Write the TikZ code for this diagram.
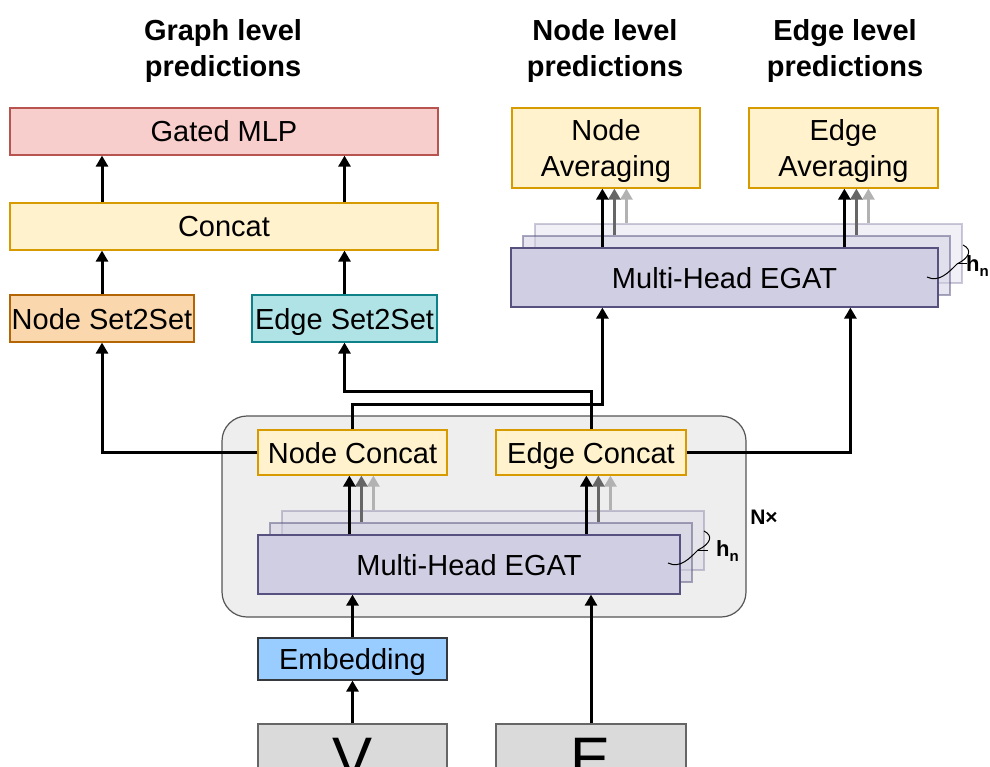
\documentclass[tikz,border=0pt]{standalone}
\usepackage{fontspec}
\setmainfont{Liberation Sans}
\usetikzlibrary{arrows.meta}

\definecolor{mlpfill}{HTML}{F8CECC}\definecolor{mlpdraw}{HTML}{B85450}
\definecolor{catfill}{HTML}{FFF2CC}\definecolor{catdraw}{HTML}{D79B00}
\definecolor{nsfill}{HTML}{FAD7AC}\definecolor{nsdraw}{HTML}{B46504}
\definecolor{esfill}{HTML}{B0E3E6}\definecolor{esdraw}{HTML}{0E8088}
\definecolor{egfill}{HTML}{D0CEE2}\definecolor{egdraw}{HTML}{56517E}
\definecolor{embfill}{HTML}{99CCFF}\definecolor{embdraw}{HTML}{36393D}
\definecolor{infill}{HTML}{DADADA}\definecolor{indraw}{HTML}{666666}
\definecolor{blkfill}{HTML}{EEEEEE}\definecolor{blkdraw}{HTML}{555555}

\newcommand\boxfont{\fontsize{29}{36}\selectfont}

\begin{document}
\begin{tikzpicture}[x=1pt,y=-1pt,
  box/.style={draw, line width=1.2pt, inner sep=0pt, align=center, font=\boxfont},
  one/.style={text height=21pt, text depth=0pt},
  mlp/.style={box, one, fill=mlpfill, draw=mlpdraw, minimum width=428pt, minimum height=47pt},
  cat/.style={box, fill=catfill, draw=catdraw},
  egat/.style={box, one, fill=egfill, draw=egdraw, minimum height=59pt},
  layer/.style={egat, fill opacity=#1, draw opacity=#1},
  title/.style={align=center, font=\bfseries\boxfont},
  conn/.style={line width=3pt, -{Triangle[length=11pt,width=12pt]}},
  brc/.style={line width=1pt},
  hlab/.style={anchor=west, inner sep=0pt, font=\bfseries\fontsize{22}{22}\selectfont},
]
\useasboundingbox (0,0) rectangle (990,767);

% titles
\node[title] (tgraph) at (223,51) {Graph level\\predictions};
\node[title] (tnode) at (605,51) {Node level\\predictions};
\node[title] (tedge) at (845,51) {Edge level\\predictions};

% graph level
\node[mlp] (gmlp) at (224,131.5) {Gated MLP};
\node[cat, one, minimum width=428pt, minimum height=47pt] (concat) at (224,226.5) {Concat};
\node[box, one, fill=nsfill, draw=nsdraw, minimum width=184pt, minimum height=47pt] (nset) at (102,318.5) {Node Set2Set};
\node[box, one, fill=esfill, draw=esdraw, minimum width=185pt, minimum height=47pt] (eset) at (344.5,318.5) {Edge Set2Set};

% node / edge level
\node[cat, text depth=0pt, minimum width=188pt, minimum height=80pt] (navg) at (606,148) {Node\\Averaging};
\node[cat, text depth=0pt, minimum width=189pt, minimum height=80pt] (eavg) at (843.5,148) {Edge\\Averaging};
\node[layer=0.3, minimum width=427pt] (egatT3) at (748.5,253.5) {};
\node[layer=0.5, minimum width=427pt] (egatT2) at (736.5,265.5) {};
\node[egat, minimum width=427pt] (egatT) at (724.5,277.5) {Multi-Head EGAT};

% repeated block
\node[draw=blkdraw, fill=blkfill, line width=1.2pt, rounded corners=25pt,
  minimum width=524pt, minimum height=201pt] (blk) at (484,516.5) {};
\node[font=\bfseries\fontsize{21}{21}\selectfont] (nx) at (764,517) {N×};
\node[cat, one, minimum width=189pt, minimum height=45pt] (nconcat) at (352.5,452.5) {Node Concat};
\node[cat, one, minimum width=190pt, minimum height=45pt] (econcat) at (591,452.5) {Edge Concat};
\node[layer=0.3, minimum width=422pt] (egatB3) at (493,540.5) {};
\node[layer=0.5, minimum width=422pt] (egatB2) at (481,552.5) {};
\node[egat, minimum width=422pt] (egatB) at (469,564.5) {Multi-Head EGAT};

% inputs
\node[box, one, fill=embfill, draw=embdraw, minimum width=189pt, minimum height=42pt] (emb) at (352.5,659) {Embedding};
\node[box, fill=infill, draw=indraw, minimum width=189pt, minimum height=70pt,
  font=\fontsize{60}{60}\selectfont] (vin) at (352.5,759) {V};
\node[box, fill=infill, draw=indraw, minimum width=190pt, minimum height=70pt,
  font=\fontsize{60}{60}\selectfont] (ein) at (591,759) {E};

% heads
\foreach \l/\c in {egatT3/black!30, egatT2/black!60, egatT/black}{
  \draw[conn, \c] ([xshift=92pt]\l.north west) coordinate (s) -- (s |- navg.south);
  \draw[conn, \c] ([xshift=334pt]\l.north west) coordinate (s) -- (s |- eavg.south);
}
\foreach \l/\c in {egatB3/black!30, egatB2/black!60, egatB/black}{
  \draw[conn, \c] ([xshift=92pt]\l.north west) coordinate (s) -- (s |- nconcat.south);
  \draw[conn, \c] ([xshift=329pt]\l.north west) coordinate (s) -- (s |- econcat.south);
}

% braces
\begin{scope}[shift={(963,245)}]
\draw[brc] (0,0) .. controls (10,5) and (6,13) .. (-6,19) .. controls (-14,27) and (-24,38) .. (-36,32);
\draw[brc] (-6,19) -- (4,19);
\end{scope}
\node[hlab] (hnT) at (966,266) {h\raisebox{-0.25em}{\fontsize{15}{15}\selectfont n}};
\begin{scope}[shift={(704,531)}]
\draw[brc] (0,0) .. controls (10,5) and (6,13) .. (-6,19) .. controls (-14,27) and (-24,38) .. (-36,32);
\draw[brc] (-6,19) -- (4,19);
\end{scope}
\node[hlab] (hnB) at (716,551) {h\raisebox{-0.25em}{\fontsize{15}{15}\selectfont n}};

% connectors
\draw[conn] (vin.north) -- (emb.south);
\draw[conn] (emb.north) -- (emb.north |- egatB.south);
\draw[conn] (ein.north) -- (ein.north |- egatB.south);
\draw[conn] (nconcat.west) -| (nset.south);
\draw[conn] (econcat.north) -- ++(0,-38) -| (eset.south);
\draw[conn] (nconcat.north) -- ++(0,-25) -| ([xshift=92pt]egatT.south west);
\draw[conn] (econcat.east) -| ([xshift=340pt]egatT.south west);
\draw[conn] (nset.north) -- (concat.south -| nset.north);
\draw[conn] (eset.north) -- (concat.south -| eset.north);
\draw[conn] (concat.north -| nset.north) -- (gmlp.south -| nset.north);
\draw[conn] (concat.north -| eset.north) -- (gmlp.south -| eset.north);

\end{tikzpicture}
\end{document}
